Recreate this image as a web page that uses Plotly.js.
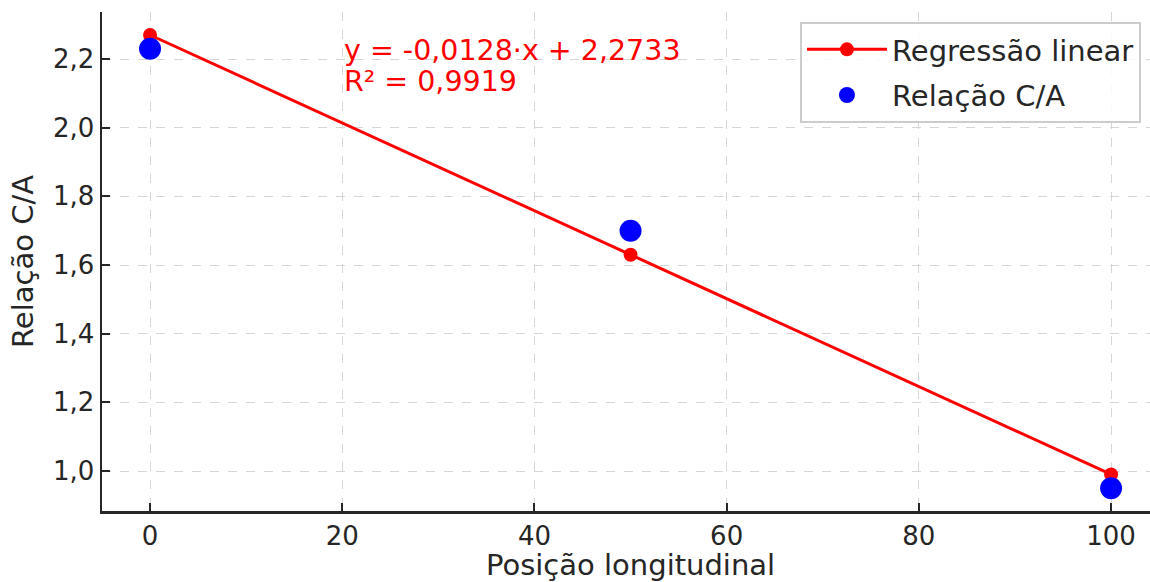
<!DOCTYPE html>
<html>
<head>
<meta charset="utf-8">
<script src="https://cdn.plot.ly/plotly-3.0.1.min.js"></script>
<style>html,body{margin:0;padding:0;background:#fff;} #chart{width:1150px;height:582px;}</style>
</head>
<body>
<div id="chart"></div>
<script>
const positions = [0, 50, 100];
const ratioObserved = [2.23, 1.70, 0.95];
const ratioFitted = [2.27, 1.63, 0.99];
const equationLine = "y = -0,0128·x + 2,2733";
const r2Line = "R² = 0,9919";
const seriesNames = ["Regressão linear", "Relação C/A"];
const xTitle = "Posição longitudinal";
const yTitle = "Relação C/A";

const font = "DejaVu Sans, sans-serif";
const dark = "#262626";

const traces = [
  {
    x: positions, y: ratioFitted, name: seriesNames[0],
    type: "scatter", mode: "lines+markers",
    line: {color: "#ff0000", width: 3},
    marker: {color: "#ff0000", size: 14},
    legendgroup: "a", cliponaxis: false
  },
  {
    x: positions, y: ratioObserved, name: seriesNames[1],
    type: "scatter", mode: "markers",
    marker: {color: "#0000ff", size: 22},
    legendgroup: "b", cliponaxis: false
  }
];

const layout = {
  width: 1150, height: 582,
  margin: {l: 102, r: 0, t: 12, b: 71},
  paper_bgcolor: "#ffffff", plot_bgcolor: "#ffffff",
  separators: ",.",
  font: {family: font, color: dark, size: 26},
  showlegend: true,
  legend: {
    x: 0.666, y: 0.98, xanchor: "left", yanchor: "top",
    bgcolor: "rgba(255,255,255,0.85)", bordercolor: "#cccccc", borderwidth: 2,
    font: {family: font, size: 29, color: dark},
    traceorder: "grouped", tracegroupgap: 5,
    itemwidth: 80
  },
  xaxis: {
    range: [-5, 104.05], tickvals: [0, 20, 40, 60, 80, 100],
    ticks: "inside", ticklen: 8, tickwidth: 2, tickcolor: dark,
    showline: true, linecolor: dark, linewidth: 2.5, mirror: false,
    showgrid: true, gridcolor: "#d6d6d6", gridwidth: 1, griddash: "dash",
    zeroline: false,
    tickfont: {family: font, size: 26, color: dark},
    automargin: false
  },
  yaxis: {
    range: [0.8835, 2.337], tickvals: [1.0, 1.2, 1.4, 1.6, 1.8, 2.0, 2.2], tickformat: ".1f",
    ticks: "inside", ticklen: 8, tickwidth: 2, tickcolor: dark,
    showline: true, linecolor: dark, linewidth: 2.5, mirror: false,
    showgrid: true, gridcolor: "#d6d6d6", gridwidth: 1, griddash: "dash",
    zeroline: false,
    tickfont: {family: font, size: 26, color: dark},
    title: {text: yTitle, font: {family: font, size: 29, color: dark}, standoff: 11},
    automargin: false
  },
  annotations: [
    {
      x: 20, y: 2.226, xref: "x", yref: "y", xanchor: "left", yanchor: "middle",
      align: "left", showarrow: false, text: equationLine,
      font: {family: font, size: 28.5, color: "#ff0000"}
    },
    {
      x: 20, y: 2.136, xref: "x", yref: "y", xanchor: "left", yanchor: "middle",
      align: "left", showarrow: false, text: r2Line,
      font: {family: font, size: 28.5, color: "#ff0000"}
    },
    {
      x: 0.504, y: -0.109, xref: "paper", yref: "paper", xanchor: "center", yanchor: "middle",
      showarrow: false, text: xTitle,
      font: {family: font, size: 29, color: dark}
    }
  ]
};

Plotly.newPlot("chart", traces, layout, {displayModeBar: false, staticPlot: true});
</script>
</body>
</html>
